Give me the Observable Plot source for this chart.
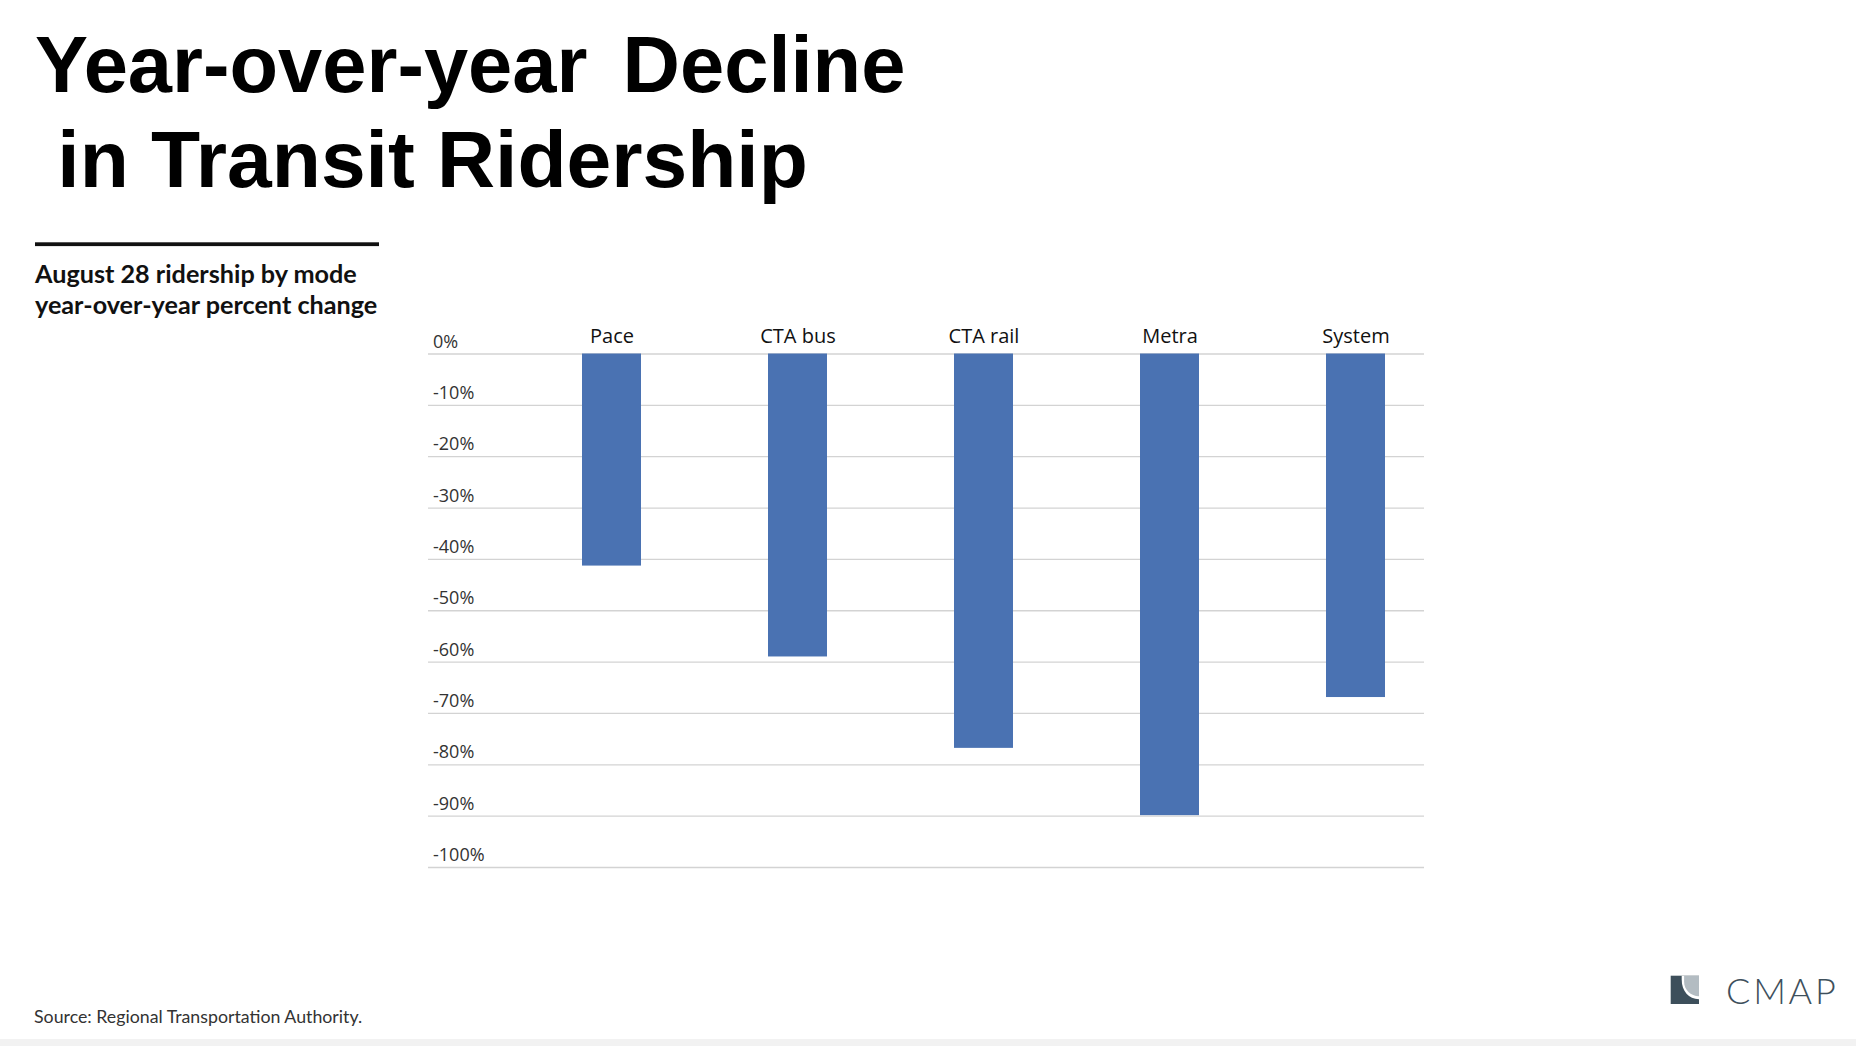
<!DOCTYPE html>
<html>
<head>
<meta charset="utf-8">
<script src="https://cdn.jsdelivr.net/npm/d3@7"></script>
<script src="https://cdn.jsdelivr.net/npm/@observablehq/plot@0.6"></script>
<style>
html, body { margin: 0; padding: 0; background: #fff; }
#page { position: relative; width: 1856px; height: 1046px; overflow: hidden; background: #fff; }
#overlay { position: absolute; left: 0; top: 0; }
#chart { position: absolute; left: 0; top: 300px; }
</style>
</head>
<body>
<div id="page">
  <svg id="overlay" width="1856" height="1046" xmlns="http://www.w3.org/2000/svg">
    <text x="35" y="92" font-family="'Liberation Sans', Arial, Helvetica, sans-serif" font-weight="bold" font-size="79.5" word-spacing="13" fill="#000">Year-over-year Decline</text>
    <text x="35" y="187" font-family="'Liberation Sans', Arial, Helvetica, sans-serif" font-weight="bold" font-size="80.4" fill="#000" style="white-space:pre"> in Transit Ridership</text>
    <rect x="35" y="242.3" width="344" height="3.8" fill="#111"></rect>
    <text x="35" y="283.3" font-family="Lato, 'Open Sans', sans-serif" font-weight="bold" font-size="25.2" fill="#111">August 28 ridership by mode</text>
    <text x="35" y="313.5" font-family="Lato, 'Open Sans', sans-serif" font-weight="bold" font-size="25.2" fill="#111">year-over-year percent change</text>
    <text x="34" y="1023" font-family="Lato, 'Open Sans', sans-serif" font-size="17.75" fill="#333">Source: Regional Transportation Authority.</text>
    <rect x="0" y="1039" width="1856" height="7" fill="#f2f2f2"></rect>
    <g transform="translate(1670.7,975.7)">
      <rect x="0" y="0" width="28.3" height="28.3" fill="#3d4f5b"></rect>
      <path d="M11,0 H28.3 V23.5 C18,23.5 11,15 11,4 Z" fill="#ffffff"></path>
      <path d="M13.4,0 H28.3 V20.5 C20,20.5 13.4,14 13.4,6 Z" fill="#b3bcc2"></path>
    </g>
    <text x="1726" y="1003.5" font-family="Lato, 'Open Sans', sans-serif" font-weight="300" font-size="36" letter-spacing="2.8" fill="#3e505c">CMAP</text>
  </svg>
  <div id="chart"></div>
</div>
<script>
// Data
const modes = ["Pace", "CTA bus", "CTA rail", "Metra", "System"];
const changes = [-41.3, -59.0, -76.8, -89.9, -66.9];
const yTicks = [0, -10, -20, -30, -40, -50, -60, -70, -80, -90, -100];
const yTickLabels = ["0%", "-10%", "-20%", "-30%", "-40%", "-50%", "-60%", "-70%", "-80%", "-90%", "-100%"];

const data = modes.map((m, i) => ({ mode: m, change: changes[i] }));
const ticks = yTicks.map((v, i) => ({ v, label: yTickLabels[i] }));

const chart = Plot.plot({
  width: 1500,
  height: 600,
  marginLeft: 428,
  marginRight: 76,
  marginTop: 53.5,
  marginBottom: 33,
  style: { fontFamily: "'Open Sans', sans-serif", background: "transparent", overflow: "visible" },
  x: { domain: modes, range: [518, 1448], paddingInner: 0.684, paddingOuter: 0.342, align: 0.5, axis: null },
  y: { domain: [-100, 0], axis: null },
  marks: [
    Plot.ruleY(ticks, { y: "v", stroke: "#d3d3d3", strokeWidth: 1.3 }),
    Plot.barY(data, { x: "mode", y: "change", fill: "#4a72b2" }),
    Plot.text(ticks, { y: "v", text: "label", frameAnchor: "left", textAnchor: "start", lineAnchor: "bottom", dx: 4.5, dy: -6.5, fontSize: 18, fill: "#333" }),
    Plot.text(data, { x: "mode", y: 0, text: "mode", lineAnchor: "bottom", dy: -11.5, fontSize: 20, fill: "#111" })
  ]
});
document.getElementById("chart").appendChild(chart);
</script>
</body>
</html>
